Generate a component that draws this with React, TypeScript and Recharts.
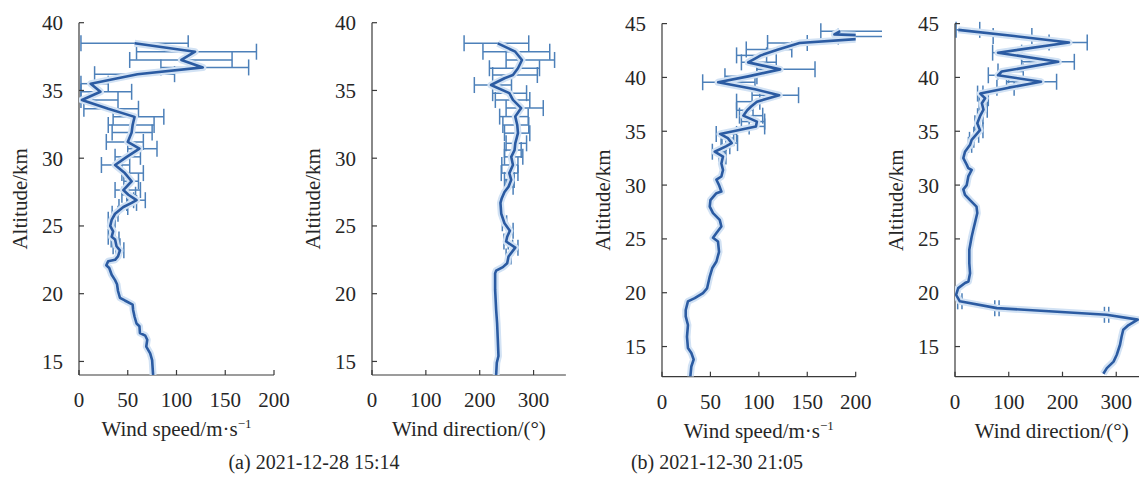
import React from 'react';
import { ErrorBar, Scatter, ScatterChart, XAxis, YAxis } from 'recharts';

const FONT = "'Liberation Serif', 'DejaVu Serif', serif";
const INK = '#262626';
const AXIS = '#3a3a3a';
const LINE = '#2b5ba2';
const HALO = '#d2e2f4';
const BAR = '#4d80b9';
const n = null;

// (a) 2021-12-28 15:14 — wind speed
const altA = [14.0, 15.1, 15.6, 16.1, 16.6, 16.9, 17.1, 17.6, 17.8, 18.3,
  18.8, 19.2, 19.5, 19.7, 20.2, 20.7, 21.0, 21.4, 21.9, 22.1,
  22.4, 22.5, 22.75, 23.2, 23.5, 24.0, 24.2, 24.6, 25.0, 25.45,
  25.9, 26.4, 26.7, 26.9, 27.3, 27.65, 28.3, 28.9, 29.5, 30.1,
  30.7, 31.2, 31.9, 32.45, 33.05, 33.65, 34.3, 34.9, 35.5, 36.2,
  36.7, 37.25, 37.86, 38.48];
const speedA = [76, 75, 73, 69, 70, 68, 62.5, 62, 59, 57,
  55.5, 55, 47, 42, 40, 39, 37, 33.5, 31, 28,
  30, 37, 40, 42, 38.5, 37, 33.5, 35, 32, 33.5,
  37, 45.5, 54, 59, 50.6, 45.5, 54, 47, 37, 49,
  62, 50, 54, 55, 57, 30, 3, 22, 12, 60,
  127, 105, 119, 57];
const speedLoA = [n, n, n, n, n, n, n, n, n, n, n, n, n, n, n, n, n, n, n, n, n, n, n,
  38, 35, 33, 30, n, n, 30, 34, 41, 49, 56, 44, 37, 46, 44, 23, 37, 50, 28, 34, 30, 35, 5, 2, 2, 2, 16, 84, 52, 59, 2];
const speedHiA = [n, n, n, n, n, n, n, n, n, n, n, n, n, n, n, n, n, n, n, n, n, n, n,
  46, 42, 41, 37, n, n, 37, 40, 50, 59, 68, 58, 63, 61, 66, 52, 63, 80, 66, 75, 77, 87, 61, 40, 54, 30, 98, 174, 157, 182, 112];

// (a) 2021-12-28 15:14 — wind direction
const altA2 = [14.0, 14.9, 15.4, 16.6, 17.8, 18.8, 20.3, 21.5, 21.7, 21.96,
  22.25, 22.75, 23.4, 23.85, 24.2, 24.65, 25.2, 25.9, 26.7, 27.05,
  27.5, 27.9, 28.4, 28.9, 29.5, 30.1, 30.6, 31.1, 31.85, 32.45,
  33.07, 33.7, 34.3, 34.8, 35.4, 35.9, 36.14, 36.64, 37.25, 37.86,
  38.48];
const dirA = [230.5, 231.7, 234.8, 233.6, 232.3, 230.5, 228.6, 228.6, 230.5, 243,
  251, 253.5, 266, 249, 251, 256, 246, 240, 238.5, 241,
  246, 253.5, 258.5, 255, 261.7, 258.5, 264.7, 266, 271, 269.7,
  266, 277, 261.7, 255, 221, 246, 261.7, 271, 278.5, 266,
  233.6];
const dirLoA = [n, n, n, n, n, n, n, n, n, n, n,
  249, 261, 245, n, 252, 242, n, n, n, n, 249, 246, 240, 241, 246, 246, 249, 246, 243,
  237, 249, 229, 224, 190, n, 224, 218, 249, 206, 171];
const dirHiA = [n, n, n, n, n, n, n, n, n, n, n,
  258, 271, 253, n, 262, 250, n, n, n, n, 262, 264, 271, 271, 280, 277, 287, 293, 291,
  290, 318, 293, 287, 259, n, 307, 311, 339, 330, 291];

// (b) 2021-12-30 21:05 — wind speed
const altB = [12.22, 13.15, 13.8, 14.4, 14.86, 15.9, 17.0, 17.8, 18.4, 19.2,
  19.5, 19.97, 20.4, 21.5, 22.3, 22.9, 23.8, 24.76, 25.1, 25.54,
  26.15, 26.77, 27.4, 28.0, 28.6, 29.25, 29.4, 30.0, 30.5, 30.8,
  31.4, 32.0, 32.65, 33.1, 33.6, 33.9, 34.36, 34.75, 35.45, 35.9,
  36.45, 36.95, 37.3, 37.75, 38.35, 38.9, 39.55, 40.1, 40.75, 41.4,
  41.8, 42.05, 42.6, 43.2, 43.8, 44.0, 44.3];
const speedB = [29.3, 30.3, 32.7, 30.3, 26.8, 25.8, 26.8, 24.5, 24.5, 26.8,
  33.8, 42.3, 46.5, 49.3, 52, 56.2, 58.9, 57.8, 52.7, 56.2,
  61.3, 59.6, 52.7, 49.3, 50, 56.2, 61.3, 58.9, 56.2, 61.3,
  63, 61.3, 63, 54.4, 66, 72, 68, 60, 97, 98,
  84, 88, 92, 98, 121, 96, 58, 89, 122, 89,
  97, 102, 120, 142, 240, 178, 184];
const speedLoB = [n, n, n, n, n, n, n, n, n, n, n, n, n, n, n, n, n, n, n, n, n, n, n, n, n, n, n, n, n, n, n, n,
  59, 52, 61, 66, 62, 56, 90, 82, 80, 77, n, 77, 93, n, 42, 65, 98, 82, n, 77, 87, 109, 182, n, 164];
const speedHiB = [n, n, n, n, n, n, n, n, n, n, n, n, n, n, n, n, n, n, n, n, n, n, n, n, n, n, n, n, n, n, n, n,
  66, 65, 70, 78, 74, 77, 106, 106, 104, 94, n, 101, 141, n, 96, 98, 158, 118, n, 108, 134, 150, 260, n, 240];

// (b) 2021-12-30 21:05 — wind direction
const altB2 = [12.47, 13.0, 13.6, 14.24, 15.17, 15.94, 16.56, 17.0, 17.5, 17.95,
  18.57, 19.2, 19.8, 20.43, 20.9, 21.04, 21.8, 22.75, 24.0, 25.2,
  25.85, 26.47, 27.4, 28.0, 28.6, 29.1, 29.6, 30.0, 30.8, 31.4,
  31.57, 31.9, 32.5, 33.1, 33.74, 34.2, 34.67, 35.1, 35.75, 36.4,
  37.0, 37.6, 38.07, 38.5, 39.05, 39.6, 40.2, 40.55, 41.45, 42.3,
  43.24, 43.85, 44.42];
const dirB = [276, 282.5, 295, 301, 307, 310, 313, 323, 340, 282,
  78, 9, 2, 6, 18.6, 25, 28, 26.6, 26.6, 31,
  34, 37, 41.5, 40, 28, 18.6, 15.5, 21.8, 24.8, 31,
  24.8, 21.8, 15.5, 18.6, 28, 31, 39, 46.5, 41.5, 46.5,
  53, 50, 56, 47, 100, 160, 80, 87, 192, 80,
  212, 110, 6];
const dirLoB = [n, n, n, n, n, n, n, n, n, 278, 74, 5,
  n, n, n, n, n, n, n, n, n, n, n, n, n, n, n, n, n, n, n, n, n, n,
  25, 27, 35, 42, 37, 42, 48, 45, 50, 42, 78, 96, 62, 80, 124, 70, 175, 71, 2];
const dirHiB = [n, n, n, n, n, n, n, n, n, 286, 82, 13,
  n, n, n, n, n, n, n, n, n, n, n, n, n, n, n, n, n, n, n, n, n, n,
  31, 35, 44, 52, 47, 52, 60, 56, 62, 52, 110, 189, 100, 127, 222, 124, 246, 143, 46];

const speedTicks = [0, 50, 100, 150, 200];
const dirTicks = [0, 100, 200, 300];
const altTicksA = [15, 20, 25, 30, 35, 40];
const altTicksB = [15, 20, 25, 30, 35, 40, 45];

type Pt = { alt: number; val: number; err: [number, number] | null };

function toPoints(alt: number[], val: number[], lo: (number | null)[], hi: (number | null)[]): Pt[] {
  return alt.map((a, i) => {
    const l = lo[i];
    const h = hi[i];
    return {
      alt: a,
      val: val[i],
      err: l == null || h == null ? null : [Math.max(0, val[i] - l), Math.max(0, h - val[i])],
    };
  });
}

const PAGE_W = 1139;
const PAGE_H = 477;
const AXIS_W = 70;
const RIGHT_PAD = 26;

const tickStyle = { fontSize: 21, fill: INK, fontFamily: FONT };
const axisLine = { stroke: AXIS, strokeWidth: 1.2 };

const noDot = () => <g />;

function AltTitle({ viewBox }: any) {
  const vb = viewBox || { x: 0, y: 0, width: AXIS_W, height: 300 };
  const cx = vb.x + vb.width - 59;
  const cy = vb.y + vb.height / 2;
  return (
    <text x={cx} y={cy} transform={`rotate(-90 ${cx} ${cy})`} textAnchor="middle"
      dominantBaseline="central" fontFamily={FONT} style={{ fontFamily: FONT }} fontSize={21} fill={INK}>
      Altitude/km
    </text>
  );
}

function XTitle({ viewBox, kind }: any) {
  const vb = viewBox || { x: 0, y: 0, width: 200, height: 100 };
  const cx = vb.x + vb.width / 2;
  const y = vb.y + 61;
  return (
    <text x={cx} y={y} textAnchor="middle" fontFamily={FONT} style={{ fontFamily: FONT }} fontSize={21} fill={INK}>
      {kind === 'speed' ? (
        <>
          Wind speed/m·s<tspan dy={-8} fontSize={13}>−1</tspan>
        </>
      ) : (
        'Wind direction/(°)'
      )}
    </text>
  );
}

interface ProfileProps {
  x0: number; x1: number; y0: number; y1: number;
  points: Pt[];
  xDomain: [number, number]; xTicks: number[];
  yDomain: [number, number]; yTicks: number[];
  kind: 'speed' | 'dir';
}

function Profile({ x0, x1, y0, y1, points, xDomain, xTicks, yDomain, yTicks, kind }: ProfileProps) {
  const width = AXIS_W + (x1 - x0) + RIGHT_PAD;
  return (
    <div style={{ position: 'absolute', left: x0 - AXIS_W, top: 0 }}>
      <ScatterChart width={width} height={PAGE_H} margin={{ top: y0, right: RIGHT_PAD, bottom: 0, left: 0 }}
        style={{ fontFamily: FONT }}>
        <XAxis type="number" dataKey="val" domain={xDomain} ticks={xTicks} interval={0} allowDataOverflow
          height={PAGE_H - y1} tickSize={-5} tickMargin={22} tick={tickStyle}
          axisLine={axisLine} tickLine={axisLine} label={<XTitle kind={kind} />} />
        <XAxis xAxisId="top" orientation="top" type="number" domain={xDomain} allowDataOverflow
          height={0} tick={false} tickLine={false} axisLine={axisLine} />
        <YAxis type="number" dataKey="alt" domain={yDomain} ticks={yTicks} interval={0} allowDataOverflow
          width={AXIS_W} tickSize={-5} tickMargin={21} tick={tickStyle}
          axisLine={axisLine} tickLine={axisLine} label={<AltTitle />} />
        <YAxis yAxisId="right" orientation="right" type="number" domain={yDomain} allowDataOverflow
          width={0} tick={false} tickLine={false} axisLine={axisLine} />
        <Scatter data={points} line={{ stroke: HALO, strokeWidth: 7, strokeLinejoin: 'round' }}
          shape={noDot} isAnimationActive={false} />
        <Scatter data={points} line={{ stroke: LINE, strokeWidth: 2.6, strokeLinejoin: 'round' }}
          shape={noDot} isAnimationActive={false}>
          <ErrorBar dataKey="err" direction="x" width={8} stroke={BAR} strokeWidth={1.5} />
        </Scatter>
      </ScatterChart>
    </div>
  );
}

const captionStyle: React.CSSProperties = {
  position: 'absolute',
  top: 452,
  transform: 'translateX(-50%)',
  whiteSpace: 'nowrap',
  fontFamily: FONT,
  fontSize: 20,
  lineHeight: '20px',
  color: INK,
};

export default function App() {
  return (
    <div style={{ position: 'absolute', left: 0, top: 0, width: PAGE_W, height: PAGE_H, overflow: 'hidden', background: '#fff', fontFamily: FONT }}>
      <Profile x0={79} x1={274} y0={22.7} y1={375} points={toPoints(altA, speedA, speedLoA, speedHiA)}
        xDomain={[0, 200]} xTicks={speedTicks} yDomain={[14, 40]} yTicks={altTicksA} kind="speed" />
      <Profile x0={371.7} x1={565.6} y0={22.7} y1={375} points={toPoints(altA2, dirA, dirLoA, dirHiA)}
        xDomain={[0, 360]} xTicks={dirTicks} yDomain={[14, 40]} yTicks={altTicksA} kind="dir" />
      <Profile x0={662.3} x1={856} y0={23.6} y1={376.7} points={toPoints(altB, speedB, speedLoB, speedHiB)}
        xDomain={[0, 200]} xTicks={speedTicks} yDomain={[12.2, 45]} yTicks={altTicksB} kind="speed" />
      <Profile x0={955} x1={1148.5} y0={23.6} y1={376.7} points={toPoints(altB2, dirB, dirLoB, dirHiB)}
        xDomain={[0, 360]} xTicks={dirTicks} yDomain={[12.2, 45]} yTicks={altTicksB} kind="dir" />
      <div style={{ ...captionStyle, left: 314 }}>(a) 2021-12-28 15:14</div>
      <div style={{ ...captionStyle, left: 717 }}>(b) 2021-12-30 21:05</div>
    </div>
  );
}
